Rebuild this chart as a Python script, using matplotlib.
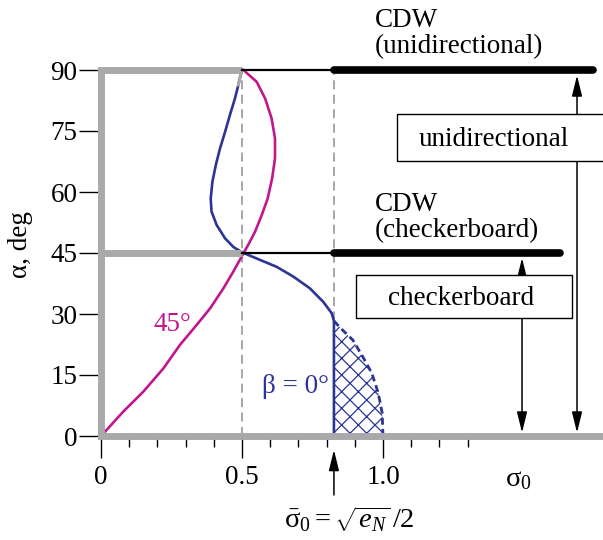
import numpy as np
import matplotlib
matplotlib.use("Agg")
from matplotlib import pyplot as plt
from matplotlib.patches import Rectangle

plt.rcParams['font.family'] = ['Liberation Serif', 'DejaVu Serif']
plt.rcParams['mathtext.fontset'] = 'custom'
plt.rcParams['mathtext.rm'] = 'Liberation Serif'
plt.rcParams['mathtext.it'] = 'Liberation Serif:italic'
plt.rcParams['mathtext.bf'] = 'Liberation Serif:bold'
plt.rcParams['hatch.linewidth'] = 0.9

FS = 19.5

# --- data (sigma_0, alpha in deg) ---
alpha_ticks = [0, 15, 30, 45, 60, 75, 90]
sigma_major = [0, 0.5, 1.0]
sigma_major_labels = ['0', '0.5', '1.0']
sigma_minor = [0.1, 0.2, 0.3, 0.4, 0.6, 0.7, 0.8, 0.9, 1.1, 1.2, 1.3]

sigma_bar = 0.826  # sqrt(e_N)/2

# beta = 0 curve
blue_sigma = [0.499, 0.487, 0.475, 0.457, 0.44, 0.422, 0.407, 0.395, 0.389, 0.392,
              0.41, 0.44, 0.469, 0.499, 0.564, 0.623, 0.682, 0.741, 0.788, 0.818,
              0.826, 0.826]
blue_alpha = [90, 86.3, 83.0, 78.9, 74.8, 70.7, 66.6, 62.5, 58.4, 55.2,
              51.9, 48.6, 46.5, 45.2, 43.3, 41.6, 39.2, 36.3, 33.0, 30.2,
              28.3, 0]

# beta = 45 curve
mag_sigma = [0.505, 0.552, 0.582, 0.605, 0.617, 0.617, 0.607, 0.591, 0.57, 0.546,
             0.522, 0.505, 0.469, 0.434, 0.387, 0.339, 0.28, 0.221, 0.15, 0.079,
             0.02, 0.0]
mag_alpha = [90, 87.1, 83.0, 78.1, 73.2, 68.3, 63.4, 58.4, 54.3, 50.2,
             47.0, 44.9, 40.4, 36.3, 31.4, 27.3, 22.4, 16.6, 10.9, 6.0,
             1.5, 0]

# hatched region boundary
hatch_sigma = [0.826, 0.85, 0.893, 0.929, 0.96, 0.983, 0.997, 1.0]
hatch_alpha = [28.3, 26.5, 23.6, 19.4, 15.5, 10.6, 5.7, 0]

# CDW lines
cdw_alpha = [90, 45]
cdw_end = [1.745, 1.628]
cdw_text = ['(unidirectional)', '(checkerboard)']
cdw_text_alpha = [94.2, 48.9]

# boxes
box_labels = ['unidirectional', 'checkerboard']
box_x = [(1.05, 2.0), (0.904, 1.670)]
box_y = [(67.6, 79.2), (29.0, 39.6)]
box_text_x = [1.394, 1.277]
box_text_y = [72.9, 33.9]
arrow_x = [1.688, 1.493]
arrow_top = [88.7, 43.8]

blue = '#2b3594'
magenta = '#c0178e'
gray = '#a9a9a9'

fig = plt.figure(figsize=(6.03, 5.40), dpi=100)
ax = fig.add_axes([101 / 603, 104 / 540, 502 / 603, 436 / 540])
ax.set_xlim(0, 502 / 282)
ax.set_ylim(0, 436 / (366 / 90))
for s in ax.spines.values():
    s.set_visible(False)

# ticks
ax.set_yticks(alpha_ticks)
ax.set_yticklabels([str(a) for a in alpha_ticks])
ax.set_xticks(sigma_major)
ax.set_xticklabels(sigma_major_labels)
ax.set_xticks(sigma_minor, minor=True)
ax.tick_params(axis='y', direction='out', length=16, width=1, pad=1, labelsize=FS)
ax.tick_params(axis='x', which='major', direction='out', length=16, width=1, pad=5, labelsize=FS)
ax.tick_params(axis='x', which='minor', direction='out', length=8, width=1)

# dashed guides
for xv in [0.5, sigma_bar]:
    ax.plot([xv, xv], [0, 90], color='#a0a0a0', lw=1.3, dashes=(5, 3), zorder=1)

# curves
ax.plot(mag_sigma, mag_alpha, color=magenta, lw=1.9, zorder=2, solid_joinstyle='round')
ax.plot(blue_sigma, blue_alpha, color=blue, lw=1.9, zorder=2, solid_joinstyle='round')
ax.plot(blue_sigma[:2], blue_alpha[:2], color=gray, lw=2.2, zorder=2.5)

# hatched region
ax.fill_betweenx(hatch_alpha, [sigma_bar] * len(hatch_alpha), hatch_sigma,
                 facecolor='none', edgecolor=blue, hatch='xx', linewidth=0, zorder=1.5)
ax.plot(hatch_sigma, hatch_alpha, color=blue, lw=2.0, dashes=(2.5, 1.5), zorder=2)

# gray frame
xmax = ax.get_xlim()[1]
ax.plot([0.5, 0, 0, xmax + 0.1], [90, 90, 0, 0], color=gray, lw=5,
        solid_joinstyle='miter', solid_capstyle='butt', zorder=3, clip_on=False)
ax.plot([0, 0.5], [45, 45], color=gray, lw=5, solid_capstyle='butt', zorder=3)

# CDW lines
for a, xe, t, ta in zip(cdw_alpha, cdw_end, cdw_text, cdw_text_alpha):
    ax.plot([0.5, sigma_bar], [a, a], color='k', lw=1.6, zorder=3)
    ax.plot([sigma_bar, xe], [a, a], color='k', lw=5.5, solid_capstyle='round', zorder=3)
    ax.text(0.972, ta + 6.4, 'CDW', fontsize=FS, ha='left', va='baseline')
    ax.text(0.972, ta, t, fontsize=FS, ha='left', va='baseline')

# boxes and arrows
for bx, by, axx, at in zip(box_x, box_y, arrow_x, arrow_top):
    ax.annotate('', xy=(axx, at), xytext=(axx, 0.8),
                arrowprops=dict(arrowstyle='<|-|>,head_length=0.9,head_width=0.22',
                                color='k', lw=1.1, mutation_scale=14, shrinkA=0, shrinkB=0),
                zorder=3.5)
    ax.add_patch(Rectangle((bx[0], by[0]), bx[1] - bx[0], by[1] - by[0],
                           facecolor='white', edgecolor='k', lw=1.0, zorder=4))
for lab, xc, yc in zip(box_labels, box_text_x, box_text_y):
    ax.text(xc, yc, lab, fontsize=FS, ha='center', va='center', zorder=5)

# curve labels
ax.text(0.255, 25.8, '45°', color=magenta, fontsize=FS, ha='center', va='baseline')
ax.text(0.688, 10.6, 'β = 0°', color=blue, fontsize=FS, ha='center', va='baseline')

# axis labels
ax.text(-0.284, 47, 'α, deg', rotation=90, fontsize=FS, ha='center', va='center')
ax.text(1.48, -12.3, r'$\mathrm{σ}_0$', fontsize=FS + 1, ha='center', va='baseline')

# sigma bar annotation
ax.annotate('', xy=(sigma_bar, -3.4), xytext=(sigma_bar, -14.5),
            arrowprops=dict(arrowstyle='-|>,head_length=0.9,head_width=0.22',
                            color='k', lw=1.1, mutation_scale=14, shrinkA=0, shrinkB=0),
            annotation_clip=False)
ax.text(0.88, -22.6, r'$\bar{\mathrm{σ}}_0 = \sqrt{e_N}\,/2$', fontsize=FS + 1,
        ha='center', va='baseline')

fig.savefig('out.png', dpi=100)
